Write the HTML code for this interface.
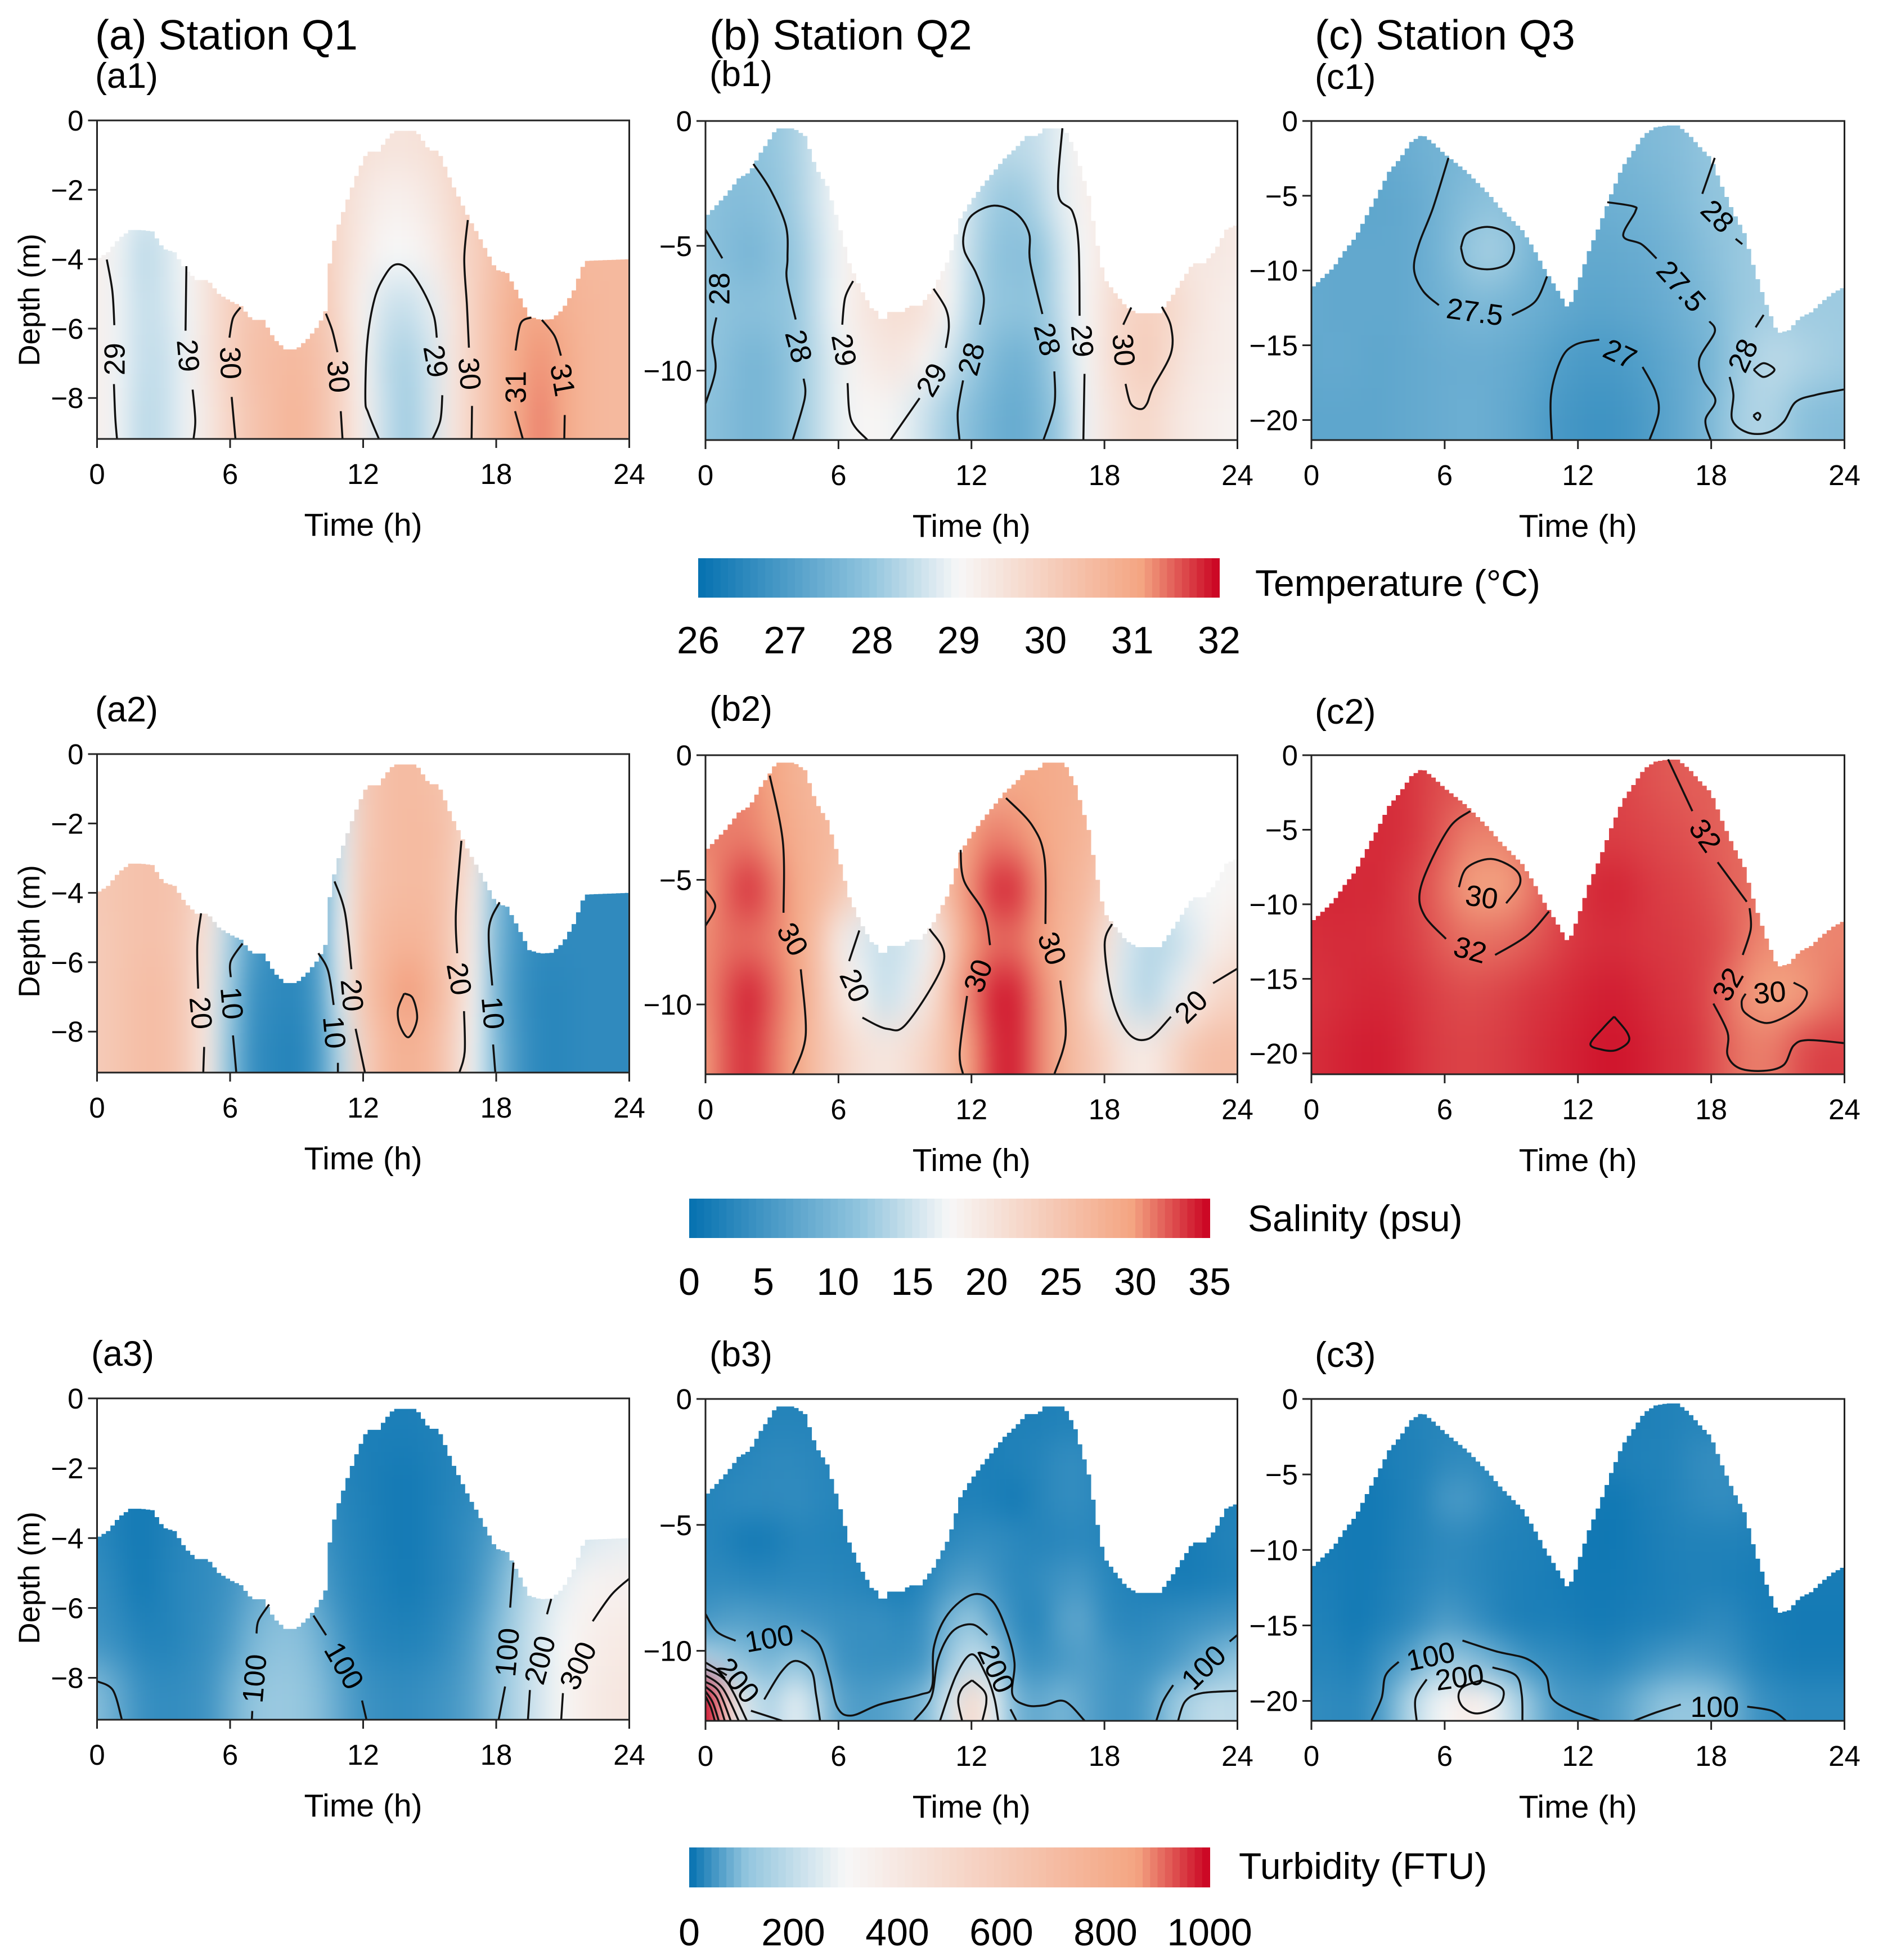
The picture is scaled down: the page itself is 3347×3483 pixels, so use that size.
<!DOCTYPE html>
<html lang="en">
<head>
<meta charset="utf-8">
<title>Station Q1–Q3 temperature, salinity and turbidity sections</title>
<style>
html,body{margin:0;padding:0;background:#fff}
svg{display:block}
text{font-family:"Liberation Sans",Arial,sans-serif;fill:#000}
</style>
</head>
<body>
<svg id="chart" xmlns="http://www.w3.org/2000/svg" width="3347" height="3483" viewBox="0 0 3347 3483">
<rect width="3347" height="3483" fill="#fff"/>
<text x="169" y="88" font-size="75">(a) Station Q1</text>
<text x="1261" y="88" font-size="75">(b) Station Q2</text>
<text x="2337" y="88" font-size="75">(c) Station Q3</text>
<text x="169" y="156" font-size="63">(a1)</text>
<text x="1261" y="153" font-size="63">(b1)</text>
<text x="2337" y="158" font-size="63">(c1)</text>
<text x="169" y="1282" font-size="63">(a2)</text>
<text x="1261" y="1281" font-size="63">(b2)</text>
<text x="2337" y="1286" font-size="63">(c2)</text>
<text x="162" y="2427" font-size="63">(a3)</text>
<text x="1261" y="2428" font-size="63">(b3)</text>
<text x="2337" y="2429" font-size="63">(c3)</text>
<text x="2231" y="1059" font-size="66">Temperature (°C)</text>
<text x="2218" y="2188" font-size="66">Salinity (psu)</text>
<text x="2202" y="3339" font-size="66">Turbidity (FTU)</text>
</svg>
<script>
const timeTicks=[0,6,12,18,24];
const depthTicksQ1=[0,-2,-4,-6,-8];
const depthTicksQ2=[0,-5,-10];
const depthTicksQ3=[0,-5,-10,-15,-20];

const surfaceQ1Times=[0,.5,1,1.5,2,2.5,3,3.5,4,4.5,5,5.5,6,6.5,7,7.5,8,8.5,9,9.5,10,10.3,10.4,10.6,10.9,11.4,11.7,12,12.2,12.7,13,13.4,14,14.4,15,15.4,16,16.8,17.2,18,18.5,19,19.5,20,20.5,21,21.5,22,24];
const surfaceQ1Depths=[-4,-3.8,-3.4,-3.16,-3.16,-3.2,-3.7,-3.8,-4.3,-4.6,-4.6,-5,-5.2,-5.35,-5.75,-5.75,-6.3,-6.6,-6.6,-6.3,-5.9,-5.5,-4.55,-3.7,-3,-2.1,-1.6,-1.15,-.9,-.9,-.6,-.3,-.3,-.3,-.87,-.87,-1.8,-2.85,-3.3,-4.3,-4.4,-5,-5.65,-5.75,-5.73,-5.45,-4.9,-4.05,-4];
const surfaceQ2Times=[0,1,1.5,2,2.5,3,3.2,4,4.5,5,5.5,6,6.5,7,7.5,7.8,8,8.2,8.9,9.2,9.7,10.3,11,11.5,12,12.5,13,13.5,14,14.5,15,15.3,16.2,16.7,17.3,17.7,18,18.5,19,19.5,20.5,21,22,22.5,23,23.5,24];
const surfaceQ2Depths=[-3.85,-2.9,-2.3,-2.05,-1.27,-.6,-.3,-.3,-.6,-1.9,-2.6,-4.05,-5.7,-6.7,-7.5,-7.65,-8.2,-7.65,-7.65,-7.4,-7.4,-6.7,-5.5,-3.9,-3.2,-2.6,-2.05,-1.5,-1.1,-.6,-.6,-.3,-.3,-1.2,-3,-5,-6.3,-6.9,-7.45,-7.7,-7.7,-7.1,-5.7,-5.7,-5.2,-4.35,-4.15];
const surfaceQ3Times=[0,.5,1,1.5,2,2.5,3,3.5,4,4.5,5,5.5,6,6.5,7,7.5,8,8.5,9,9.5,10,10.5,11,11.5,11.7,12,12.5,13,13.5,14,14.5,15,15.5,16,16.5,17,17.5,18,18.5,19,19.5,20,20.5,21,21.5,22,22.5,23,23.5,24];
const surfaceQ3Depths=[-11.2,-10.5,-9.8,-8.7,-7.75,-6.3,-4.9,-3.4,-2.5,-1.4,-.9,-1.5,-2.2,-2.8,-3.4,-4.15,-4.9,-5.8,-6.55,-7.3,-8.5,-9.9,-11.1,-12.4,-12.1,-10.9,-8.7,-6.9,-4.9,-3.1,-2,-.9,-.43,-.3,-.3,-.9,-1.75,-2.5,-4.4,-6.1,-7.5,-10.15,-12.3,-14.2,-14,-13.15,-12.8,-12.1,-11.5,-11.1];

const gridA1=[
[29.2,29,28.8,28.8,29,29.4,29.8,30,30,30,30,29.8,29.6,29.5,29.5,29.6,29.8,30.1,30.4,30.6,30.7,30.6,30.6,30.6,30.6],
[29.2,29,28.7,28.7,29,29.4,29.8,30,30,30,30,29.7,29.4,29.2,29.2,29.4,29.7,30.1,30.4,30.6,30.7,30.6,30.6,30.6,30.6],
[29.2,28.9,28.4,28.6,29,29.5,29.9,30.2,30.3,30.3,30.2,29.7,29.3,29,29,29.2,29.6,30,30.4,30.7,30.8,30.7,30.6,30.6,30.6],
[29.2,28.9,28.5,28.6,28.95,29.5,30,30.3,30.4,30.4,30.3,29.7,29.1,28.6,28.5,28.8,29.4,30,30.5,30.9,31,30.8,30.7,30.6,30.6],
[29.2,28.9,28.5,28.5,28.9,29.5,30,30.4,30.5,30.6,30.4,29.9,29.1,28.4,28.2,28.6,29.4,30,30.5,31,31.2,31,30.7,30.6,30.6],
[29.2,28.9,28.4,28.5,28.9,29.4,29.9,30.3,30.5,30.7,30.4,29.9,29.2,28.5,28.1,28.6,29.4,30,30.5,31,31.3,31,30.7,30.6,30.6]];
const gridB1=[
[27.9,27.9,27.9,28,28.2,28.6,29,29.3,29.4,29.4,29.3,29,28.6,28.4,28.4,28.5,28.85,29.1,29.4,29.6,29.6,29.5,29.4,29.4,29.3],
[27.9,27.8,27.8,27.9,28.15,28.6,29,29.3,29.4,29.4,29.3,29,28.5,28.1,28,28.3,28.8,29.1,29.4,29.6,29.6,29.5,29.4,29.4,29.3],
[27.9,27.75,27.6,27.8,28,28.5,28.95,29.3,29.5,29.4,29.3,29,28.4,27.95,27.85,27.9,28.55,29,29.4,29.7,29.7,29.6,29.4,29.4,29.3],
[28,27.9,27.85,27.9,28,28.5,29,29.4,29.6,29.7,29.5,29,28.3,28,27.95,27.95,28.5,29,29.5,29.9,30,29.8,29.5,29.3,29.2],
[28,27.8,27.6,27.7,28,28.4,28.85,29.2,29.4,29.4,29.05,28.6,28.1,27.7,27.5,27.7,28.3,28.95,29.5,29.9,30.1,29.7,29.4,29.3,29.2],
[27.9,27.75,27.6,27.7,28,28.4,28.85,29.05,29.05,28.85,28.5,28.1,27.8,27.5,27.35,27.6,28.1,28.9,29.4,29.7,29.8,29.5,29.3,29.2,29.1]];
const gridC1=[
[27.3,27.3,27.3,27.35,27.4,27.5,27.55,27.6,27.7,27.7,27.6,27.5,27.5,27.55,27.6,27.7,27.75,27.85,28,28,28,28,28,28,28],
[27.3,27.3,27.25,27.25,27.3,27.4,27.6,27.8,27.9,27.85,27.7,27.5,27.4,27.45,27.5,27.55,27.65,27.8,27.95,28,28,28,28,28,28],
[27.3,27.3,27.3,27.3,27.3,27.4,27.65,28,28.2,28,27.6,27.4,27.35,27.3,27.35,27.4,27.5,27.65,27.85,28,28.1,28.1,28.1,28.1,28.1],
[27.35,27.3,27.3,27.3,27.3,27.4,27.5,27.65,27.65,27.55,27.45,27.35,27.25,27.2,27.25,27.3,27.4,27.55,27.7,28,28.1,28.15,28.1,28.1,28.1],
[27.3,27.35,27.3,27.25,27.3,27.35,27.4,27.4,27.4,27.35,27.25,27.1,27,26.95,27,27.1,27.25,27.4,27.6,28,28.3,28.4,28.3,28.2,28.1],
[27.25,27.25,27.25,27.25,27.3,27.35,27.4,27.45,27.4,27.3,27.15,26.95,26.85,26.8,26.85,27,27.2,27.4,27.7,28.1,28.3,28.2,27.9,27.8,27.75]];
const gridA2=[
[25,25,25.5,25.5,25,22,15,8,5,5,8,15,24,26,26.5,26,25,21,12,6,4,4,4,4,4],
[25,25,25.5,25.5,25,22,15,8,5,5,8,16,24,26,26.5,26.5,25,21,13,6,4,4,4,4,4],
[24.5,25,25.5,25.5,24.5,21,14,7,4,4,7,16.5,24.5,26,26.5,26.5,24.5,19,11,5,3.5,3.5,3.5,3.5,3.5],
[24,25,25.5,25.5,24,20,13,6,4,3.5,7,17,25,27,27.5,27,24,18.5,10,5,3.5,3.5,3.5,3.5,3.5],
[24,25,26,26,24,19.5,12,4.5,3.5,3,6,16.5,25,28,30,28,24.5,18,9.5,4.5,3,3,3.5,3.5,3.5],
[24,25,26,26,24,19.5,11,4,3,2.5,5.5,14,23,27,28,27,23.5,17,10,5,3,3,3.5,3.5,3.5]];
const gridB2=[
[31,31,30.5,29.5,28,27,26.5,26,26,25.5,25.5,26,27,28,29,29,28.5,28,27,25,20,18,17.5,17.5,17.5],
[31,31,31,30,28.5,27.5,26.5,26,25.5,25,25,27,30,31,30.5,29.5,28.5,27.5,26,24,20,17.5,17,17,17.5],
[30,32,33.5,31.5,29,27.5,25,22,19,19,22,27,30.5,33.5,33.5,30.5,28,27,24,19.5,17,16.5,17,17.5,18],
[30.5,31.5,31.5,31,29.5,26,19.5,16,14.5,15,17,24,30,31.5,31.5,30,27.5,26,21,15.5,13.5,14,16,18.5,20],
[30.5,32.5,34,32,30,26,21,18,14.5,16,20,26,31,34,34,31,28,24.5,19.5,15,13.5,16,19,22,23],
[30,32.5,33.5,31.5,29.5,26,23,21,20,21,23,26,30,33.5,34,31,28,25.5,23,20,19.5,22,25,26,26]];
const gridC2=[
[33.5,33.5,33.5,33.5,33.5,33,32.5,32.5,32,32,32,32.5,32.5,32.8,32.8,32.5,32.2,32,32,31.8,31.5,31,31,31,31],
[33.5,33.5,33.5,33.7,33.5,33,32,31,30.8,31,32,32.5,33,33,33,32.8,32.6,32.4,32,31.8,31.5,31,31,31,31],
[33.7,33.8,33.7,33.7,33.2,32.5,31.3,30,29.6,30,31.2,32.5,33.3,33.8,33.8,33.3,33,32.8,32.4,31.8,31.5,31,30.8,30.8,30.8],
[33.5,33.6,33.6,33.5,33.2,32.7,32,31.5,31.5,31.7,32.2,32.8,33.3,33.5,33.5,33.3,33.2,33,32.7,32,30.8,30.5,30.6,30.7,30.8],
[33.3,33.5,33.7,33.8,33.6,33.2,32.8,32.6,32.7,33,33.3,33.5,33.8,34,34,33.7,33.4,33.2,32.5,31,30,29.6,30,30.7,31.5],
[33.5,33.8,34,34.1,33.8,33.3,33,32.9,33,33.2,33.5,33.8,34,34.3,34.3,34,33.6,33.4,32.6,31.6,31,31.3,32.5,33,33]];
const gridA3=[
[25,20,12,15,25,30,35,40,50,50,40,25,18,18,18,20,25,30,35,40,45,50,60,70,80],
[25,20,12,15,25,30,35,40,50,50,40,25,20,15,12,18,25,30,40,60,80,100,130,160,180],
[30,18,12,20,28,35,40,50,70,70,45,30,22,15,12,18,28,40,60,100,160,200,240,260,270],
[38,25,12,22,30,35,45,70,90,90,60,35,25,18,12,20,28,45,80,150,220,270,320,340,350],
[45,35,24,22,30,38,55,90,105,105,85,50,30,24,22,26,38,60,100,170,240,300,350,380,390],
[100,70,42,35,38,45,80,110,125,120,100,70,45,38,36,42,50,70,105,175,240,310,370,400,420]];
const gridB3=[
[20,20,22,25,25,25,25,22,20,20,20,20,20,20,20,20,22,22,22,20,20,20,20,20,20],
[22,25,28,32,32,28,25,22,20,20,20,20,18,18,22,25,35,35,25,22,20,20,20,20,20],
[25,30,33,32,35,30,25,22,20,20,20,20,22,18,12,25,35,35,25,22,20,20,20,20,20],
[28,20,12,15,25,25,22,22,20,20,20,30,35,35,30,25,28,30,25,22,20,15,15,20,25],
[32,32,28,28,30,30,28,25,18,14,30,50,60,45,30,35,45,50,30,22,18,15,15,18,22],
[50,60,60,55,50,45,40,38,38,30,45,90,120,70,35,25,60,70,35,28,30,35,40,45,50],
[180,130,100,90,110,90,45,40,38,40,50,130,210,170,50,40,50,60,50,40,40,50,70,90,110],
[1000,500,230,160,270,180,70,55,60,75,100,250,520,280,90,70,90,70,50,45,60,110,170,200,190]];
const gridC3=[
[15,15,15,15,20,25,25,25,25,25,25,20,20,20,18,20,22,25,25,30,30,25,20,15,15],
[15,15,15,15,20,22,32,35,30,28,25,20,18,20,20,22,22,32,38,35,25,20,15,15,15],
[15,15,12,12,18,25,50,52,35,25,22,18,15,10,10,18,22,30,35,35,25,20,15,15,15],
[14,13,12,12,20,25,32,32,25,22,20,18,12,8,10,15,20,22,22,22,20,15,15,15,15],
[18,16,12,15,22,28,35,30,25,20,18,15,12,10,12,15,18,20,20,18,15,15,15,15,15],
[22,18,10,18,25,38,55,45,30,20,18,18,15,12,15,18,20,25,32,28,18,15,12,12,12],
[25,25,18,35,55,90,120,105,85,60,40,35,30,25,30,40,50,55,50,40,25,18,15,15,15],
[35,32,30,50,110,230,300,380,320,200,100,55,50,50,65,90,110,115,110,80,45,35,30,30,30]];

const contoursA1=[
[[.44,-4.01],[.69,-4.92],[.78,-5.9]],[[.76,-7.6],[.82,-8.54],[.9,-9.18]],
[[4.03,-4.2],[3.99,-6.06]],[[4.31,-7.76],[4.43,-8.64],[4.35,-9.18]],
[[6.47,-5.39],[6.13,-5.7],[5.97,-6.26]],[[6.07,-7.97],[6.24,-9.18]],
[[10.32,-5.57],[10.61,-6.06],[10.84,-6.68]],[[10.99,-8.38],[11.07,-9.18]],
[[12.71,-9.18],[12.23,-8.43],[12.1,-8.02],[12.19,-6.37],[12.52,-5.13],[13,-4.45],[13.47,-4.15],[14.05,-4.3],[14.71,-4.92],[15.19,-5.64],[15.32,-6.26]],[[15.57,-7.92],[15.48,-8.64],[15.13,-9.18]],
[[16.72,-2.87],[16.56,-3.99],[16.68,-5.33],[16.77,-6.55]],[[16.91,-8.23],[16.89,-9.18]],
[[19.58,-5.68],[19.1,-5.85],[18.87,-6.63]],[[18.85,-8.38],[19.2,-9.18]],
[[20.06,-5.75],[20.63,-6.21],[20.92,-6.78]],[[21.09,-8.49],[21.07,-9.18]]];
const labelsA1=[[.78,-6.88,'29',-90],[4.12,-6.78,'29',85],[6.03,-6.99,'30',88],[10.9,-7.38,'30',85],[15.29,-6.94,'29',80],[16.81,-7.3,'30',85],[18.87,-7.69,'31',-90],[21.01,-7.48,'31',80]];
const contoursB1=[
[[0,-4.35],[.76,-5.5]],[[.49,-7.87],[.31,-8.81],[.45,-9.96],[0,-11.32]],
[[2.16,-1.72],[2.94,-2.77],[3.63,-4.21],[3.7,-5.5],[3.67,-6.36],[4.07,-7.95]],[[4.43,-10.32],[4.48,-11.1],[3.94,-12.77]],
[[6.66,-6.41],[6.3,-7.08],[6.17,-8.16]],[[6.41,-10.5],[6.57,-11.97],[7.3,-12.77]],
[[10.29,-6.72],[10.84,-7.51],[10.98,-8.23],[10.84,-9.09]],[[9.66,-11.1],[8.35,-12.77]],
[[12.38,-8.16],[12.56,-7.08],[12.2,-6.08],[11.69,-5.22],[11.66,-4.5],[12.02,-3.78],[13.02,-3.39],[14.02,-3.71],[14.6,-4.5],[14.65,-5.65],[15.2,-7.73]],[[15.74,-10.03],[15.74,-11.39],[15.25,-12.77]],
[[11.62,-10.39],[11.38,-11.68],[11.46,-12.77]],
[[16.1,-.29],[15.92,-2.92],[16.56,-3.64],[16.83,-4.93],[16.88,-7.8]],[[17.1,-10.13],[17.05,-12.77]],
[[19.21,-7.47],[18.85,-8.16]],[[18.95,-10.53],[19.19,-11.32],[19.64,-11.54],[19.92,-11.32],[20.19,-10.68],[21,-9.31],[21,-8.23],[20.59,-7.44]]];
const labelsB1=[[.62,-6.72,'28',-90],[4.21,-9.02,'28',75],[6.26,-9.17,'29',80],[10.2,-10.36,'29',-60],[15.43,-8.74,'28',75],[11.98,-9.53,'28',-75],[17.01,-8.81,'29',85],[18.88,-9.17,'30',85]];
const contoursC1=[
[[6.17,-2.47],[5.47,-5.83],[4.84,-8.24],[4.62,-9.92],[5.02,-11.36],[5.74,-12.32]],[[9.03,-12.99],[10.07,-12.08],[10.61,-10.4]],
[[6.73,-8.48],[7,-7.52],[7.91,-7.08],[8.81,-7.52],[9.13,-8.48],[8.81,-9.56],[7.91,-9.92],[7,-9.56],[6.73,-8.48]],
[[12.96,-14.62],[11.88,-14.96],[11.25,-15.92],[10.79,-18.32],[10.83,-21.34]],[[14.91,-16.45],[15.49,-18.08],[15.63,-19.52],[15.22,-21.34]],
[[13.32,-5.43],[14.49,-5.71],[14.58,-6.07],[14.04,-7.68],[14.86,-8.24],[15.54,-9.2]],[[17.92,-13.4],[18.16,-14.12],[17.47,-15.92],[17.65,-17.36],[18.19,-18.68],[17.74,-20],[17.98,-21.34]],
[[18.16,-2.47],[17.6,-4.87]],[[19.1,-7.88],[19.4,-8.24]],[[20.36,-12.97],[20,-13.8]],
[[18.83,-17.12],[19,-18.32],[18.95,-20],[19.64,-20.84],[20.54,-20.84],[21.26,-20.12],[21.8,-18.8],[22.7,-18.32],[23.97,-17.96]],
[[19.91,-16.64],[20.36,-16.2],[20.85,-16.64],[20.36,-17.12],[19.91,-16.64]],
[[19.9,-19.71],[20.09,-19.52],[20.21,-19.71],[20.09,-20],[19.9,-19.71]]];
const labelsC1=[[7.36,-12.75,'27.5',8],[13.9,-15.56,'27',25],[16.66,-11.04,'27.5',48],[18.29,-6.36,'28',45],[19.42,-15.68,'28',-65]];
const contoursA2=[
[[4.69,-4.59],[4.52,-5.5],[4.56,-6.76]],[[4.83,-8.44],[4.79,-9.18]],
[[6.56,-5.46],[6.03,-5.97],[6.03,-6.43]],[[6.13,-8.11],[6.28,-9.18]],
[[9.98,-5.74],[10.42,-6.25],[10.67,-7.23]],[[10.86,-8.9],[10.86,-9.18]],
[[10.71,-3.67],[11.18,-4.57],[11.47,-6.2]],[[11.66,-7.92],[12.08,-9.18]],
[[16.43,-2.5],[16.18,-4.57],[16.24,-5.74]],[[16.55,-7.41],[16.58,-8.58],[16.34,-9.18]],
[[18.15,-4.27],[17.67,-5.04],[17.82,-6.67]],[[17.86,-8.37],[17.96,-9.18]],
[[13.85,-6.9],[14.24,-7.04],[14.43,-7.64],[14.05,-8.16],[13.66,-7.83],[13.57,-7.36],[13.85,-6.9]]];
const labelsA2=[[4.69,-7.46,'20',85],[6.09,-7.18,'10',85],[10.71,-8.02,'10',85],[11.51,-6.95,'20',85],[16.34,-6.48,'20',80],[17.86,-7.46,'10',85]];
const contoursB2=[
[[0,-5.41],[.44,-6.06],[0,-6.84]],
[[2.9,-.82],[3.49,-3.47],[3.52,-6.32]],[[4.3,-8.59],[4.52,-11.24],[3.94,-12.8]],
[[6.94,-7.03],[6.48,-8.26]],[[7.08,-10.53],[8.21,-10.98],[9.11,-10.73],[10.75,-8.26],[10.11,-6.97]],
[[11.51,-3.8],[11.66,-5.03],[12.56,-6.32],[12.84,-7.62]],[[11.8,-9.66],[11.47,-11.89],[11.62,-12.8]],
[[13.56,-1.72],[14.74,-2.82],[15.29,-4.12],[15.34,-6.77]],[[16.01,-9.04],[16.25,-11.24],[15.74,-12.8]],
[[18.34,-6.77],[18.01,-7.62],[18.37,-9.82],[19.1,-11.18],[20,-11.37],[21,-10.49]],[[22.9,-9.15],[24,-8.56]]];
const labelsB2=[[3.94,-7.38,'30',60],[6.75,-9.24,'20',65],[12.29,-8.85,'30',-70],[15.65,-7.75,'30',70],[21.9,-10.08,'20',-45]];
const contoursC2=[
[[7.15,-3.75],[6.28,-4.73],[5.38,-7.11],[4.87,-9.28],[5.11,-10.8],[6.06,-12.32]],[[8.27,-13.4],[9.71,-12.1],[10.7,-10.48]],
[[8.77,-9.93],[9.39,-8.63],[9.17,-7.66],[8.09,-6.96],[7,-7.55],[6.64,-8.85]],
[[16.06,-.28],[17.15,-3.75]],[[18.29,-7.18],[19.6,-9.83]],[[19.73,-10.26],[19.78,-11.67],[19.42,-13.4]],
[[18.1,-16.66],[18.74,-18.61],[18.74,-20.13],[19.28,-21],[20.36,-21.17],[21.26,-20.78],[21.71,-19.48],[22.35,-19.11],[23.97,-19.31]],
[[21.71,-15.25],[22.31,-15.9],[21.8,-17.09],[20.54,-17.96],[19.55,-17.31],[19.37,-16.55],[19.55,-16]],
[[13.63,-17.53],[14.22,-18.61],[14.26,-19.26],[13.68,-19.8],[13.05,-19.74],[12.56,-19.37],[13.14,-18.29],[13.63,-17.53]]];
const labelsC2=[[7.15,-13.04,'32',15],[7.67,-9.5,'30',8],[17.74,-5.38,'32',55],[18.74,-15.36,'32',-60],[20.63,-15.9,'30',-5]];
const contoursA3=[
[[0,-8.1],[.71,-8.35],[1.12,-9.2]],
[[7.76,-5.9],[7.28,-6.36],[7.19,-6.73]],[[7,-8.95],[6.98,-9.2]],
[[9.76,-6.22],[10.33,-6.78]],[[11.95,-8.65],[12.15,-9.2]],
[[18.78,-4.7],[18.63,-5.99]],[[18.4,-8.25],[18.11,-9.2]],
[[20.48,-5.74],[20.29,-6.18]],[[19.52,-8.35],[19.43,-9.2]],
[[24,-5.16],[23.2,-5.62],[22.35,-6.38]],[[21.01,-8.44],[20.93,-9.2]]];
const labelsA3=[[7.09,-8.02,'100',-85],[11.15,-7.65,'100',60],[18.49,-7.27,'100',-85],[19.96,-7.49,'200',-75],[21.68,-7.65,'300',-65]];
const contoursB3=[
[[0,-8.54],[.51,-9.24],[1.36,-9.6]],
[[4.32,-9.18],[5.14,-9.76],[5.59,-10.97],[5.95,-12.25],[6.59,-12.57],[7.86,-12.13],[9.67,-11.74],[10.22,-11.42],[10.31,-9.82],[10.94,-8.54],[12.03,-7.77],[12.94,-8.03],[13.58,-9.18],[13.94,-10.46],[13.85,-11.74],[14.48,-12.16],[15.3,-12.16],[16.2,-12],[17.11,-12.78]],
[[0,-10.46],[.96,-10.97]],[[2.05,-12.38],[3.47,-12.78]],
[[2.65,-11.93],[3.41,-10.85],[4.05,-10.4],[4.77,-10.78],[4.99,-11.74],[5.17,-12.78]],
[[12.72,-9.37],[12.03,-8.95],[11.13,-9.24],[10.49,-10.33],[10.18,-11.87],[9.4,-12.78]],[[13.76,-12.32],[14.03,-12.78]],
[[10.58,-12.78],[11.31,-10.97],[12.03,-10.14],[12.67,-10.97],[13.03,-11.87],[13.21,-12.78]],
[[12.03,-11.17],[12.58,-11.61],[12.67,-12.06],[12.49,-12.78]],[[11.58,-12.78],[11.4,-12],[11.58,-11.49],[12.03,-11.17]],
[[0,-10.72],[.96,-11.23],[1.87,-12.78]],
[[0,-10.97],[.78,-11.49],[1.5,-12.78]],
[[0,-11.23],[.6,-11.61],[1.14,-12.78]],
[[0,-11.42],[.51,-11.87],[.87,-12.78]],
[[0,-11.61],[.33,-12.06],[.6,-12.78]],
[[0,-11.8],[.24,-12.25],[.42,-12.78]],
[[24,-9.37],[23.65,-9.63]],[[21.1,-11.36],[20.65,-12],[20.34,-12.78]],
[[21.32,-12.78],[21.65,-12],[22.38,-11.68],[24,-11.59]]];
const labelsB3=[[2.87,-9.5,'100',-10],[1.47,-11.17,'200',50],[13.12,-10.72,'200',65],[22.47,-10.65,'100',-45]];
const contoursC3=[
[[2.7,-21.32],[3.16,-19.81],[3.34,-18.31],[3.93,-17.41]],
[[6.8,-16],[8.3,-16.71],[9.74,-17.24],[10.55,-18.31],[10.82,-19.81],[11.72,-20.66],[12.98,-21.32]],
[[4.74,-21.32],[4.69,-19.81],[5.19,-18.57]],
[[8.15,-17.78],[9.2,-18.31],[9.47,-19.59],[9.5,-21.32]],
[[7.66,-18.63],[8.48,-19.06],[8.66,-19.59],[8.39,-20.34],[7.48,-20.83],[6.85,-20.45],[6.62,-19.7],[6.85,-19.06],[7.66,-18.63]],
[[14.52,-21.32],[15.51,-20.77],[16.63,-20.24]],
[[19.62,-20.38],[20.74,-20.66],[21.37,-21.32]]];
const labelsC3=[[5.37,-17.03,'100',-12],[6.67,-18.42,'200',-8],[18.16,-20.38,'100',0]];

const temperatureTicks=[26,27,28,29,30,31,32];
const salinityTicks=[0,5,10,15,20,25,30,35];
const turbidityTicks=[0,200,400,600,800,1000];

const rampColors=[[5,113,176],[146,197,222],[247,247,247],[244,165,130],[202,0,32]];
const scales={
  temperature:{min:26,max:32,stops:[0,.33,.5,.85,1]},
  salinity:{min:0,max:35,stops:[0,.33,.5,.85,1]},
  turbidity:{min:0,max:1000,stops:[0,.11,.3,.86,1]}
};
function colorFor(scale,value){
  const s=scales[scale];
  const f=Math.max(0,Math.min(1,(value-s.min)/(s.max-s.min)));
  let i=0;
  while(i<s.stops.length-2&&f>s.stops[i+1])i++;
  const k=(f-s.stops[i])/(s.stops[i+1]-s.stops[i]);
  const a=rampColors[i],b=rampColors[i+1];
  return 'rgb('+[0,1,2].map(c=>Math.round(a[c]+(b[c]-a[c])*k)).join(',')+')';
}

const columnFrames={a:{x0:172.5,x1:1118.5},b:{x0:1254,x1:2199.5},c:{x0:2331,x1:3278.5}};
const panels=[
 {id:'a1',col:'a',y0:214,y1:780,bottom:-9.18,ticks:depthTicksQ1,times:surfaceQ1Times,depths:surfaceQ1Depths,grid:gridA1,contours:contoursA1,labels:labelsA1,scale:'temperature',titleY:533},
 {id:'b1',col:'b',y0:215,y1:782,bottom:-12.78,ticks:depthTicksQ2,times:surfaceQ2Times,depths:surfaceQ2Depths,grid:gridB1,contours:contoursB1,labels:labelsB1,scale:'temperature'},
 {id:'c1',col:'c',y0:215,y1:782,bottom:-21.34,ticks:depthTicksQ3,times:surfaceQ3Times,depths:surfaceQ3Depths,grid:gridC1,contours:contoursC1,labels:labelsC1,scale:'temperature'},
 {id:'a2',col:'a',y0:1340,y1:1906,bottom:-9.18,ticks:depthTicksQ1,times:surfaceQ1Times,depths:surfaceQ1Depths,grid:gridA2,contours:contoursA2,labels:labelsA2,scale:'salinity',titleY:1655},
 {id:'b2',col:'b',y0:1342,y1:1909,bottom:-12.8,ticks:depthTicksQ2,times:surfaceQ2Times,depths:surfaceQ2Depths,grid:gridB2,contours:contoursB2,labels:labelsB2,scale:'salinity'},
 {id:'c2',col:'c',y0:1342,y1:1909,bottom:-21.4,ticks:depthTicksQ3,times:surfaceQ3Times,depths:surfaceQ3Depths,grid:gridC2,contours:contoursC2,labels:labelsC2,scale:'salinity'},
 {id:'a3',col:'a',y0:2485,y1:3056,bottom:-9.2,ticks:depthTicksQ1,times:surfaceQ1Times,depths:surfaceQ1Depths,grid:gridA3,contours:contoursA3,labels:labelsA3,scale:'turbidity',titleY:2804},
 {id:'b3',col:'b',y0:2486,y1:3058,bottom:-12.78,ticks:depthTicksQ2,times:surfaceQ2Times,depths:surfaceQ2Depths,grid:gridB3,contours:contoursB3,labels:labelsB3,scale:'turbidity'},
 {id:'c3',col:'c',y0:2486,y1:3058,bottom:-21.32,ticks:depthTicksQ3,times:surfaceQ3Times,depths:surfaceQ3Depths,grid:gridC3,contours:contoursC3,labels:labelsC3,scale:'turbidity'}
];
const colorbars=[
 {scale:'temperature',ticks:temperatureTicks,x0:1241,x1:2167,y0:992,y1:1062,base:1161},
 {scale:'salinity',ticks:salinityTicks,x0:1225,x1:2150,y0:2130,y1:2200,base:2301},
 {scale:'turbidity',ticks:turbidityTicks,x0:1225,x1:2150,y0:3283,y1:3354,base:3457}
];

const svg=document.getElementById('chart');
const NS='http://www.w3.org/2000/svg';
function make(tag,attrs,parent){
  const e=document.createElementNS(NS,tag);
  for(const k in attrs)e.setAttribute(k,attrs[k]);
  parent.appendChild(e);
  return e;
}
function interp(ts,ds,t){
  if(t<=ts[0])return ds[0];
  for(let i=1;i<ts.length;i++){
    if(t<=ts[i])return ds[i-1]+(ds[i]-ds[i-1])*(t-ts[i-1])/(ts[i]-ts[i-1]);
  }
  return ds[ds.length-1];
}
function smoothPath(pts){
  let d='M'+pts[0][0].toFixed(1)+' '+pts[0][1].toFixed(1);
  for(let i=0;i<pts.length-1;i++){
    const p0=pts[Math.max(0,i-1)],p1=pts[i],p2=pts[i+1],p3=pts[Math.min(pts.length-1,i+2)];
    const c1=[p1[0]+(p2[0]-p0[0])/6,p1[1]+(p2[1]-p0[1])/6];
    const c2=[p2[0]-(p3[0]-p1[0])/6,p2[1]-(p3[1]-p1[1])/6];
    d+='C'+c1[0].toFixed(1)+' '+c1[1].toFixed(1)+' '+c2[0].toFixed(1)+' '+c2[1].toFixed(1)+' '+p2[0].toFixed(1)+' '+p2[1].toFixed(1);
  }
  return d;
}

const defs=make('defs',{},svg);
panels.forEach(function(p){
  const c=columnFrames[p.col];
  const xs=t=>c.x0+(c.x1-c.x0)*t/24;
  const ys=d=>p.y0+(p.y1-p.y0)*d/p.bottom;
  const g=make('g',{},svg);
  
  

  const stepT=.2;
  let d='M'+xs(0)+' '+ys(p.bottom);
  for(let t=0;t<24-1e-6;t+=stepT){
    const yy=ys(interp(p.times,p.depths,t+stepT/2)).toFixed(1);
    d+='L'+xs(t).toFixed(1)+' '+yy+'L'+xs(Math.min(24,t+stepT)).toFixed(1)+' '+yy;
  }
  d+='L'+xs(24)+' '+ys(p.bottom)+'Z';
  const clip=make('clipPath',{id:'clip-'+p.id},defs);
  make('path',{d:d},clip);

  const rows=p.grid.length,cols=p.grid[0].length;
  const cw=(c.x1-c.x0)/(cols-1),ch=(p.y1-p.y0)/rows;
  const filter=make('filter',{id:'blur-'+p.id,filterUnits:'userSpaceOnUse',x:c.x0-300,y:p.y0-300,width:c.x1-c.x0+600,height:p.y1-p.y0+600,'color-interpolation-filters':'sRGB'},defs);
  make('feGaussianBlur',{stdDeviation:(cw*.5)+' '+(ch*.38)},filter);
  const clipped=make('g',{'clip-path':'url(#clip-'+p.id+')'},g);
  
  
  const heat=make('g',{filter:'url(#blur-'+p.id+')'},clipped);
  p.grid.forEach(function(rowVals,j){
    rowVals.forEach(function(v,i){
      const t=i*24/(cols-1);
      let xa=xs(t)-cw/2,xb=xs(t)+cw/2;
      let ya=ys(p.bottom*j/rows),yb=ys(p.bottom*(j+1)/rows);
      if(i===0)xa-=200;
      if(i===cols-1)xb+=200;
      if(j===0)ya-=200;
      if(j===rows-1)yb+=200;
      const cell=make('rect',{x:xa.toFixed(1),y:ya.toFixed(1),width:(xb-xa+1).toFixed(1),height:(yb-ya+1).toFixed(1),fill:colorFor(p.scale,v)},heat);
      
      
    });
  });

  p.contours.forEach(function(line){
    const path=make('path',{d:smoothPath(line.map(q=>[xs(q[0]),ys(q[1])])),fill:'none',stroke:'#111','stroke-width':3.5},g);
    
    
  });
  p.labels.forEach(function(l){
    const x=xs(l[0]),y=ys(l[1]);
    const tx=make('text',{x:x.toFixed(1),y:y.toFixed(1),dy:'.35em','text-anchor':'middle','font-size':52,transform:'rotate('+l[3]+' '+x.toFixed(1)+' '+y.toFixed(1)+')'},g);
    tx.textContent=l[2];
    
    
  });

  const frame=make('rect',{x:c.x0,y:p.y0,width:c.x1-c.x0,height:p.y1-p.y0,fill:'none',stroke:'#222','stroke-width':3},g);
  
  

  timeTicks.forEach(function(t){
    const tick=make('line',{x1:xs(t),x2:xs(t),y1:p.y1,y2:p.y1+16,stroke:'#222','stroke-width':3},g);
    
    
    const lab=make('text',{x:xs(t),y:p.y1+80,'text-anchor':'middle','font-size':51},g);
    lab.textContent=String(t);
    
    
  });
  p.ticks.forEach(function(v){
    const tick=make('line',{x1:c.x0-16,x2:c.x0,y1:ys(v),y2:ys(v),stroke:'#222','stroke-width':3},g);
    
    
    const lab=make('text',{x:c.x0-24,y:ys(v)+18,'text-anchor':'end','font-size':51},g);
    lab.textContent=v<0?'\u2212'+Math.abs(v):String(v);
    
    
  });
  const xt=make('text',{x:(c.x0+c.x1)/2,y:p.y1+172,'text-anchor':'middle','font-size':57},g);
  xt.textContent='Time (h)';
  
  
  if(p.titleY){
    const yt=make('text',{x:0,y:0,'text-anchor':'middle','font-size':53,transform:'translate(70 '+p.titleY+') rotate(-90)'},g);
    yt.textContent='Depth (m)';
    
    
  }
});

colorbars.forEach(function(b){
  const s=scales[b.scale];
  const g=make('g',{},svg);
  
  
  const steps=70;
  const w=(b.x1-b.x0)/steps;
  for(let i=0;i<steps;i++){
    const v=s.min+(s.max-s.min)*(i+.5)/steps;
    const seg=make('rect',{x:(b.x0+i*w).toFixed(1),y:b.y0,width:(w+1).toFixed(1),height:b.y1-b.y0,fill:colorFor(b.scale,v)},g);
    
    
  }
  b.ticks.forEach(function(v){
    const lab=make('text',{x:(b.x0+(b.x1-b.x0)*(v-s.min)/(s.max-s.min)).toFixed(1),y:b.base,'text-anchor':'middle','font-size':68},g);
    lab.textContent=String(v);
    
    
  });
});
</script>
</body>
</html>
